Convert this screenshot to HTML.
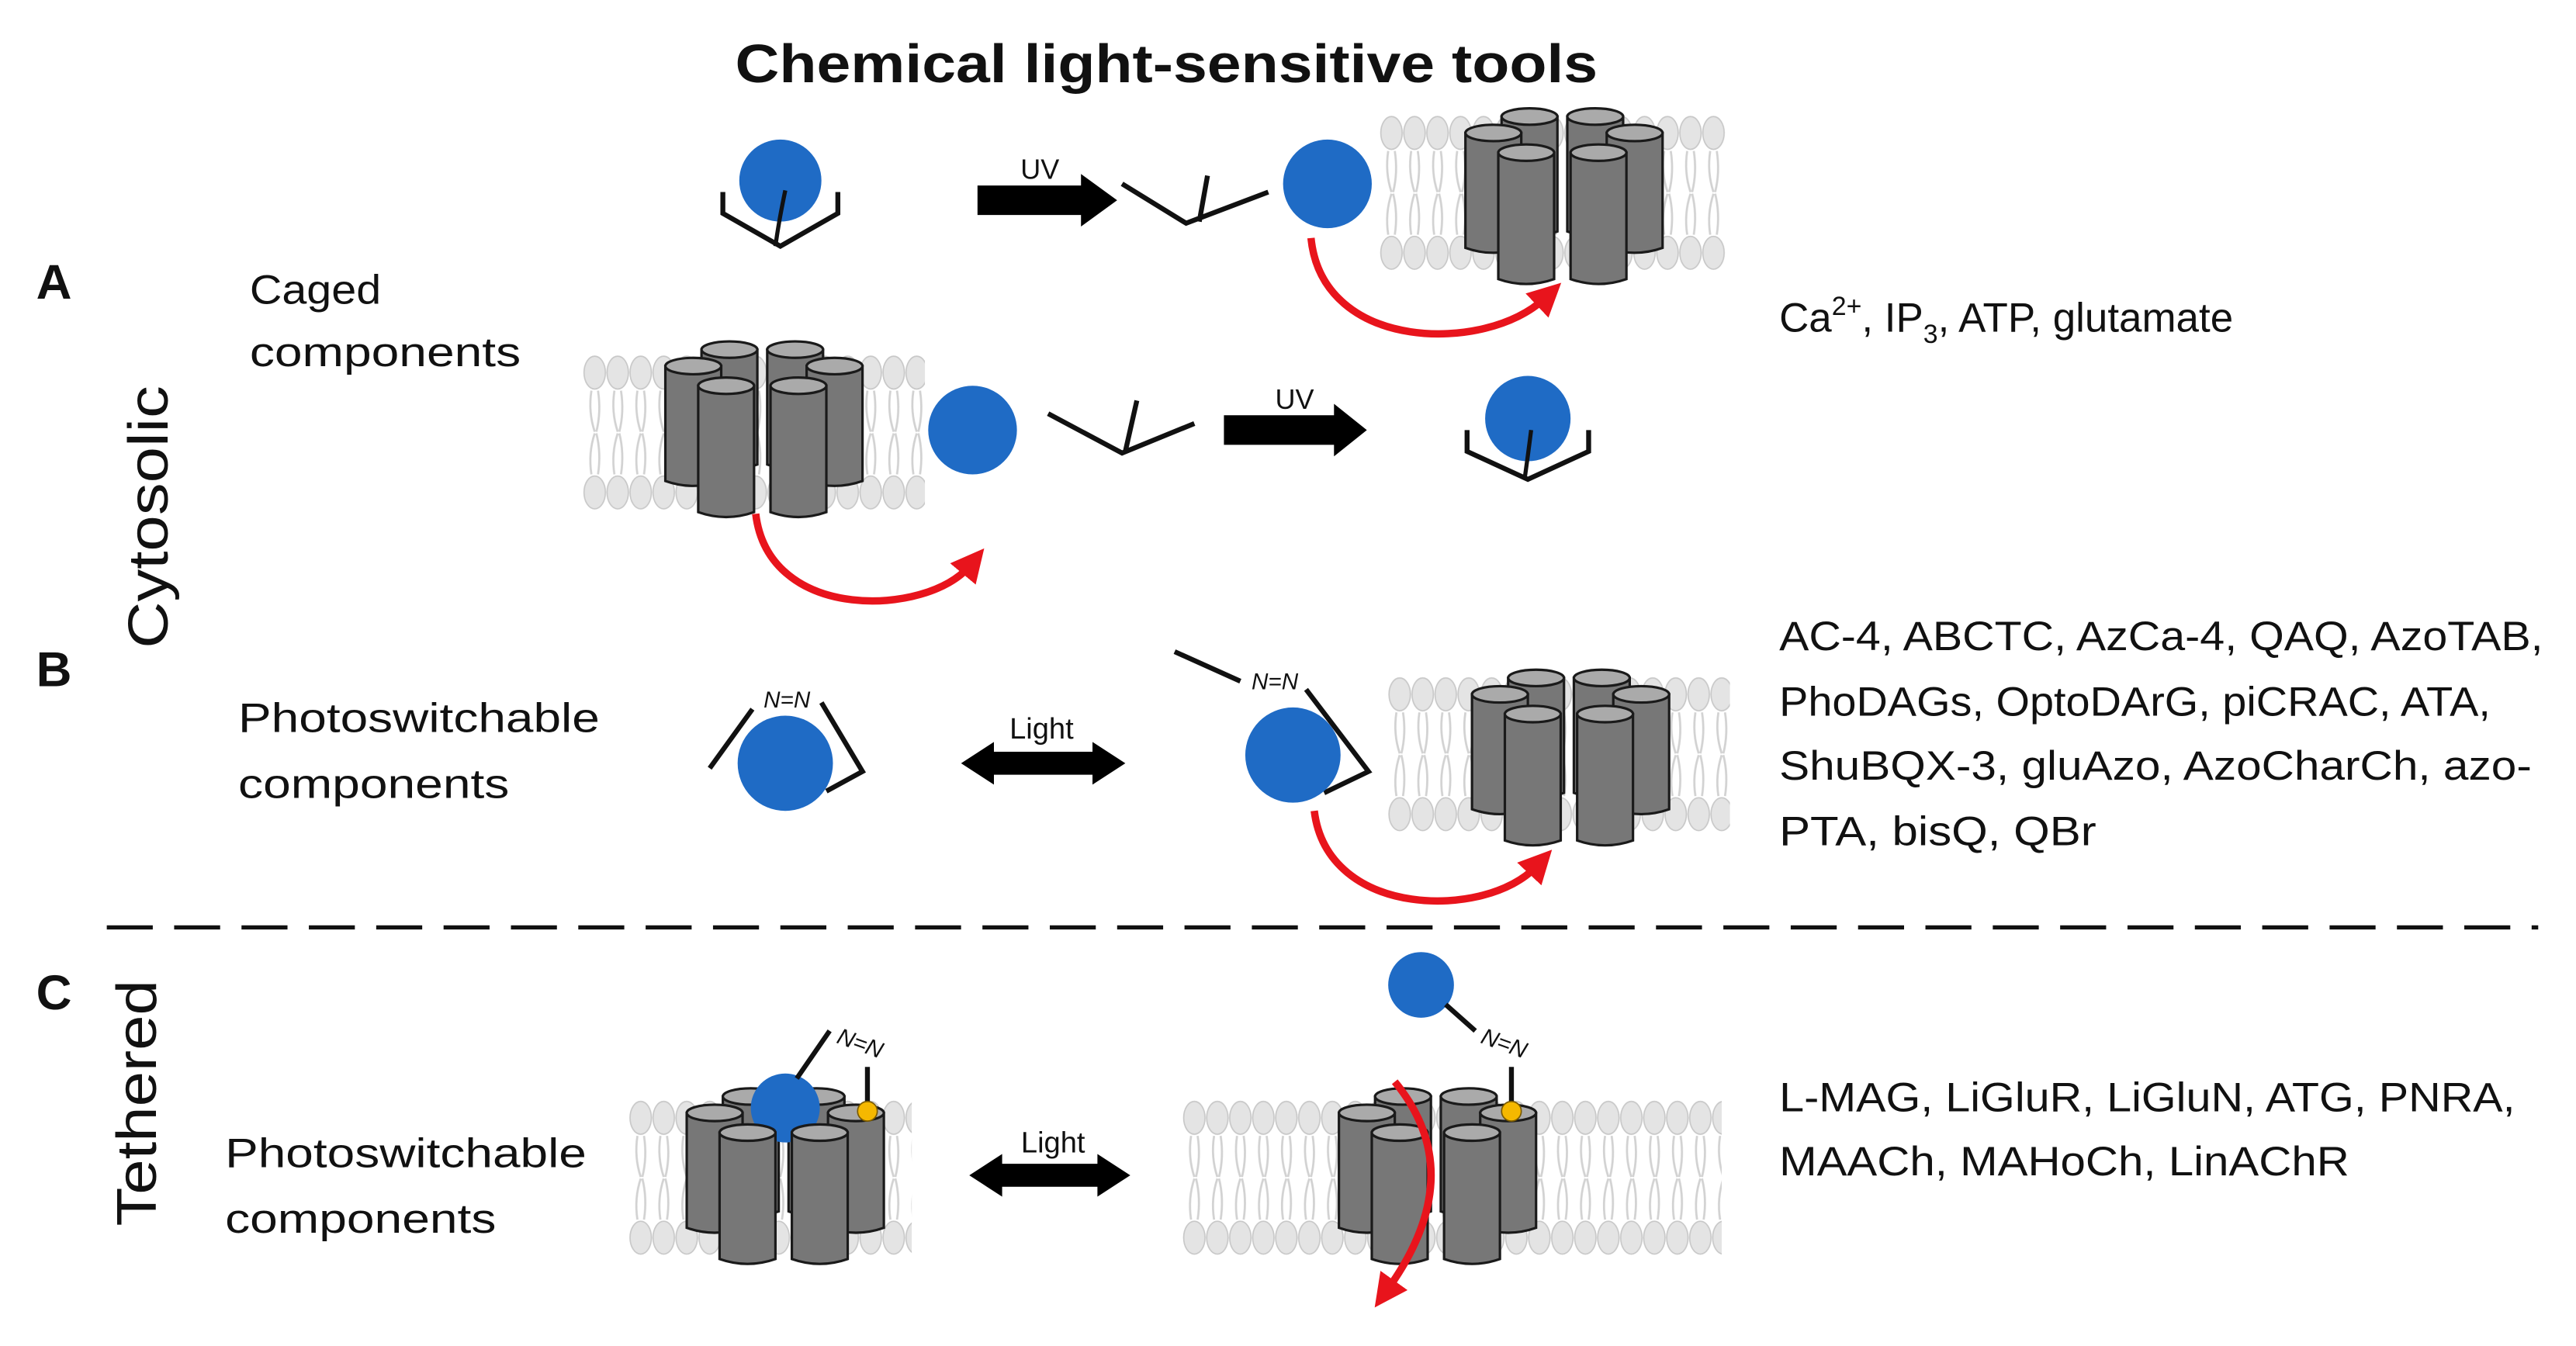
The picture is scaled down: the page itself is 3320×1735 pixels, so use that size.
<!DOCTYPE html>
<html><head><meta charset="utf-8"><style>
html,body{margin:0;padding:0;background:#fff;}
svg{display:block;}
text{font-family:"Liberation Sans",sans-serif;fill:#111;}
</style></head><body>
<svg width="3320" height="1735" viewBox="0 0 1568 820" preserveAspectRatio="none" xmlns="http://www.w3.org/2000/svg">
<defs>
  <pattern id="mem" x="0" y="0" width="14" height="200" patternUnits="userSpaceOnUse">
    <ellipse cx="7" cy="11" rx="6.5" ry="10" fill="#e4e4e4" stroke="#c8c8c8" stroke-width="0.8"/>
    <ellipse cx="7" cy="84" rx="6.5" ry="10" fill="#e4e4e4" stroke="#c8c8c8" stroke-width="0.8"/>
    <path d="M5,22 Q3,35 7,47 M9,22 Q11,35 8,47 M5,73 Q3,60 7,48 M9,73 Q11,60 8,48" stroke="#d2d2d2" stroke-width="1.3" fill="none"/>
  </pattern>
  <g id="cyl">
    <path d="M0,5 L0,75 Q17,81 34,75 L34,5 Z" fill="#777" stroke="#1a1a1a" stroke-width="1.5"/>
    <ellipse cx="17" cy="5" rx="17" ry="5" fill="#aaa" stroke="#1a1a1a" stroke-width="1.5"/>
  </g>
  <g id="cylL">
    <path d="M0,5 L0,82 Q17,88 34,82 L34,5 Z" fill="#777" stroke="#1a1a1a" stroke-width="1.5"/>
    <ellipse cx="17" cy="5" rx="17" ry="5" fill="#aaa" stroke="#1a1a1a" stroke-width="1.5"/>
  </g>
  <g id="chback">
    <use href="#cyl" x="22" y="0"/>
    <use href="#cyl" x="62" y="0"/>
    <use href="#cyl" x="0" y="10"/>
    <use href="#cyl" x="86" y="10"/>
  </g>
  <g id="chfront">
    <use href="#cylL" x="20" y="22"/>
    <use href="#cylL" x="64" y="22"/>
  </g>
  <g id="ch"><use href="#chback"/><use href="#chfront"/></g>
  <marker id="rh" viewBox="0 0 10 10" refX="3" refY="5" markerWidth="4.5" markerHeight="4.5" orient="auto">
    <path d="M0,0 L10,5 L0,10 Z" fill="#e8141c"/>
  </marker>
</defs>

<text x="710" y="50" text-anchor="middle" font-size="33" font-weight="bold" textLength="525" lengthAdjust="spacingAndGlyphs">Chemical light-sensitive tools</text>

<text x="22" y="182" font-size="30" font-weight="bold">A</text>
<text x="22" y="418" font-size="30" font-weight="bold">B</text>
<text x="22" y="615" font-size="30" font-weight="bold">C</text>
<text transform="translate(102,315) rotate(-90)" text-anchor="middle" font-size="34" textLength="160" lengthAdjust="spacingAndGlyphs">Cytosolic</text>
<text transform="translate(95,672) rotate(-90)" text-anchor="middle" font-size="34" textLength="150" lengthAdjust="spacingAndGlyphs">Tethered</text>
<text x="152" y="185" font-size="25" textLength="80" lengthAdjust="spacingAndGlyphs">Caged</text>
<text x="152" y="223" font-size="25" textLength="165" lengthAdjust="spacingAndGlyphs">components</text>
<text x="145" y="446" font-size="25" textLength="220" lengthAdjust="spacingAndGlyphs">Photoswitchable</text>
<text x="145" y="486" font-size="25" textLength="165" lengthAdjust="spacingAndGlyphs">components</text>
<text x="137" y="711" font-size="25" textLength="220" lengthAdjust="spacingAndGlyphs">Photoswitchable</text>
<text x="137" y="751" font-size="25" textLength="165" lengthAdjust="spacingAndGlyphs">components</text>

<text x="1083" y="202" font-size="25">Ca<tspan font-size="16" dy="-10">2+</tspan><tspan dy="10">, IP</tspan><tspan font-size="16" dy="7">3</tspan><tspan dy="-7">, ATP, glutamate</tspan></text>
<text x="1083" y="396" font-size="25" textLength="465" lengthAdjust="spacingAndGlyphs">AC-4, ABCTC, AzCa-4, QAQ, AzoTAB,</text>
<text x="1083" y="436" font-size="25" textLength="433" lengthAdjust="spacingAndGlyphs">PhoDAGs, OptoDArG, piCRAC, ATA,</text>
<text x="1083" y="475" font-size="25" textLength="458" lengthAdjust="spacingAndGlyphs">ShuBQX-3, gluAzo, AzoCharCh, azo-</text>
<text x="1083" y="515" font-size="25" textLength="193" lengthAdjust="spacingAndGlyphs">PTA, bisQ, QBr</text>
<text x="1083" y="677" font-size="25" textLength="448" lengthAdjust="spacingAndGlyphs">L-MAG, LiGluR, LiGluN, ATG, PNRA,</text>
<text x="1083" y="716" font-size="25" textLength="347" lengthAdjust="spacingAndGlyphs">MAACh, MAHoCh, LinAChR</text>

<line x1="65" y1="565" x2="1545" y2="565" stroke="#111" stroke-width="2.5" stroke-dasharray="28,13"/>

<!-- A top -->
<circle cx="475" cy="110" r="25" fill="#1f6bc5"/>
<path d="M440,117 L440,130 L475,150 L510,130 L510,117" fill="none" stroke="#111" stroke-width="3"/>
<path d="M478,116 Q474,135 472,150" fill="none" stroke="#111" stroke-width="2.5"/>
<text x="633" y="109" font-size="17" text-anchor="middle">UV</text>
<path d="M595,113 L658,113 L658,106 L680,122 L658,138 L658,131 L595,131 Z" fill="#000"/>
<path d="M683,112 L722,136 L772,117 M735,107 L730,135" fill="none" stroke="#111" stroke-width="3"/>
<circle cx="808" cy="112" r="27" fill="#1f6bc5"/>
<g transform="translate(840,70)"><rect width="210" height="96" fill="url(#mem)"/></g>
<g transform="translate(892,66)"><use href="#ch"/></g>
<path d="M798,145 C805,215 905,215 940,182" fill="none" stroke="#e8141c" stroke-width="4.5" marker-end="url(#rh)"/>

<!-- A bottom -->
<g transform="translate(355,216)"><rect width="208" height="96" fill="url(#mem)"/></g>
<g transform="translate(405,208)"><use href="#ch"/></g>
<circle cx="592" cy="262" r="27" fill="#1f6bc5"/>
<path d="M638,252 L683,276 L727,258 M692,244 L685,275" fill="none" stroke="#111" stroke-width="3"/>
<text x="788" y="249" font-size="17" text-anchor="middle">UV</text>
<path d="M745,253 L812,253 L812,246 L832,262 L812,278 L812,271 L745,271 Z" fill="#000"/>
<circle cx="930" cy="255" r="26" fill="#1f6bc5"/>
<path d="M893,262 L893,275 L930,292 L967,275 L967,262" fill="none" stroke="#111" stroke-width="3"/>
<path d="M932,262 Q930,278 928,292" fill="none" stroke="#111" stroke-width="2.5"/>
<path d="M460,313 C468,380 565,375 590,345" fill="none" stroke="#e8141c" stroke-width="4.5" marker-end="url(#rh)"/>

<!-- B -->
<circle cx="478" cy="465" r="29" fill="#1f6bc5"/>
<path d="M432,468 L458,432 M500,428 L525,470 L503,482" fill="none" stroke="#111" stroke-width="3"/>
<text x="479" y="431" font-size="14" text-anchor="middle" font-style="italic">N=N</text>
<text x="634" y="450" font-size="18" text-anchor="middle">Light</text>
<path d="M585,465 L605,452 L605,458 L665,458 L665,452 L685,465 L665,478 L665,472 L605,472 L605,478 Z" fill="#000"/>
<path d="M715,397 L755,415 M795,420 L833,470 L806,483" fill="none" stroke="#111" stroke-width="3"/>
<text x="776" y="420" font-size="14" text-anchor="middle" font-style="italic">N=N</text>
<circle cx="787" cy="460" r="29" fill="#1f6bc5"/>
<g transform="translate(845,412)"><rect width="208" height="96" fill="url(#mem)"/></g>
<g transform="translate(896,408)"><use href="#ch"/></g>
<path d="M800,494 C808,560 905,560 935,528" fill="none" stroke="#e8141c" stroke-width="4.5" marker-end="url(#rh)"/>

<!-- C left -->
<g transform="translate(383,670)"><rect width="172" height="96" fill="url(#mem)"/></g>
<g transform="translate(418,663)"><use href="#chback"/></g>
<circle cx="478" cy="675" r="21" fill="#1f6bc5"/>
<g transform="translate(418,663)"><use href="#chfront"/></g>
<path d="M485,657 L505,628 M528,650 L528,673" fill="none" stroke="#111" stroke-width="3"/>
<text x="522" y="640" font-size="14" text-anchor="middle" font-style="italic" transform="rotate(20 522 640)">N=N</text>
<circle cx="528" cy="677" r="6" fill="#f5b800" stroke="#7a5a00" stroke-width="0.8"/>
<text x="641" y="702" font-size="18" text-anchor="middle">Light</text>
<path d="M590,716 L610,703 L610,709 L668,709 L668,703 L688,716 L668,729 L668,723 L610,723 L610,729 Z" fill="#000"/>

<!-- C right -->
<g transform="translate(720,670)"><rect width="328" height="96" fill="url(#mem)"/></g>
<g transform="translate(815,663)"><use href="#ch"/></g>
<circle cx="865" cy="600" r="20" fill="#1f6bc5"/>
<path d="M880,612 L898,628 M920,650 L920,673" fill="none" stroke="#111" stroke-width="3"/>
<text x="914" y="640" font-size="14" text-anchor="middle" font-style="italic" transform="rotate(20 914 640)">N=N</text>
<circle cx="920" cy="677" r="6" fill="#f5b800" stroke="#7a5a00" stroke-width="0.8"/>
<path d="M849,659 Q895,715 845,785" fill="none" stroke="#e8141c" stroke-width="4.5" marker-end="url(#rh)"/>
</svg>
</body></html>
